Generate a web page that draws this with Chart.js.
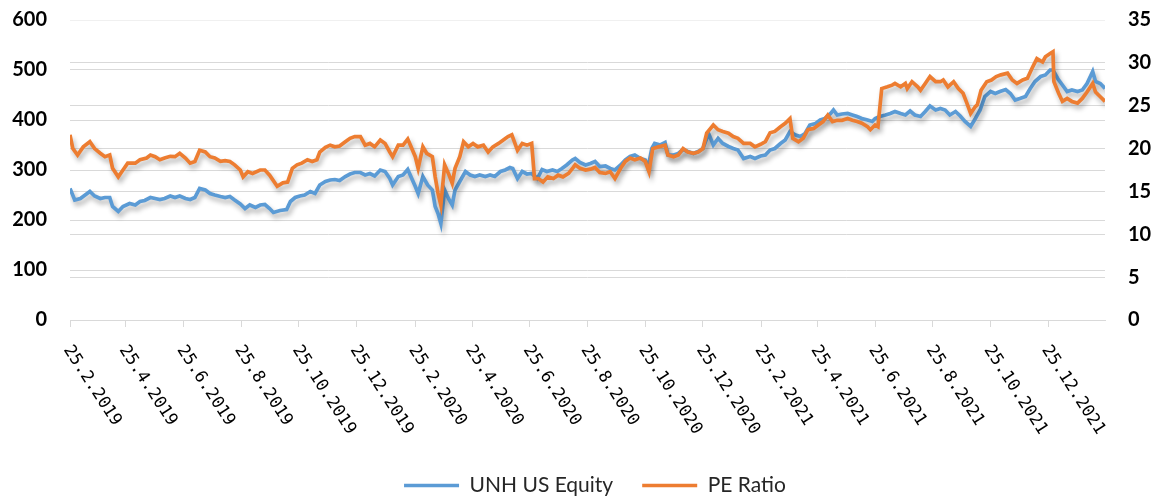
<!DOCTYPE html>
<html>
<head>
<meta charset="utf-8">
<script src="https://cdn.jsdelivr.net/npm/chart.js@4"></script>
<style>
html, body { margin: 0; padding: 0; background: #fff; }
#chart { display: block; }
</style>
</head>
<body>
<canvas id="chart" width="1170" height="499" style="width:1170px;height:499px"></canvas>
<script>
/* ---------- Data ---------- */
// x values are days since 25.2.2019
const START = Date.UTC(2019, 1, 25);

const tickLabels = ['25.2.2019', '25.4.2019', '25.6.2019', '25.8.2019', '25.10.2019', '25.12.2019',
    '25.2.2020', '25.4.2020', '25.6.2020', '25.8.2020', '25.10.2020', '25.12.2020',
    '25.2.2021', '25.4.2021', '25.6.2021', '25.8.2021', '25.10.2021', '25.12.2021'];

const uDays = [0,5,11,16,21,26,32,37,42,45, 51,56,63,69,74,79,85,90,95,100,
    106,111,116,122,127,132,137,143,148,153, 159,164,169,174,180,185,190,196,201,206,
    211,215,222,229,233,238,243,248,254,259, 264,270,275,280,285,291,296,301,307,312,
    317,322,328,333,338,341,347,352,357,365, 368,373,378,383,386,389,392,396,400,404,
    407,412,418,423,428,433,439,444,449,455, 460,465,468,473,478,483,488,494,499,504,
    510,515,520,525,531,534,539,545,550,555, 560,566,571,576,582,587,592,597,603,608,
    611,615,618,624,629,632,638,643,648,653, 659,664,669,675,680,685,690,696,701,706,
    712,719,724,730,735,740,745,751,756,761, 767,772,777,782,788,793,798,804,807,811,
    816,822,827,832,837,843,848,851,856,862, 867,872,878,883,888,893,899,904,909,915,
    920,925,930,936,941,946,952,957,962,967, 973,978,983,989,994,999,1004,1010,1015,1020,
    1026,1031,1036,1039,1044,1049,1054,1059,1065,1070, 1075,1081,1084,1089,1094];
const uVals = [263,240,243,250,257,248,243,245,245,227, 217,227,233,230,237,239,245,243,241,243,
    248,245,248,243,241,245,263,260,253,250, 247,245,247,240,232,223,230,225,230,231,
    223,215,219,221,237,245,248,250,257,253, 270,277,280,281,279,287,292,295,295,290,
    293,288,300,297,283,270,287,290,301,267, 253,287,270,260,227,213,193,260,243,230,
    260,277,297,290,287,290,287,290,287,297, 300,305,303,283,297,292,293,283,301,297,
    300,297,303,310,320,323,315,310,313,317, 307,308,303,300,310,320,327,330,323,320,
    305,343,353,350,355,330,330,333,341,337, 333,337,343,373,350,363,353,347,343,340,
    323,327,323,328,330,340,343,353,360,377, 370,367,373,390,393,400,403,413,420,410,
    412,413,410,407,403,400,397,403,407,410, 413,417,413,410,418,410,407,417,428,420,
    423,420,410,417,408,397,387,403,420,447, 457,453,457,461,453,440,443,447,463,477,
    487,490,500,500,483,470,457,460,457,460, 473,497,477,473,463];

const peDays = [0,3,8,14,21,26,32,37,42,45, 51,56,61,69,74,81,85,90,95,100,
    106,111,116,122,127,132,137,143,148,153, 159,164,169,174,180,183,188,193,201,206,
    211,219,225,230,235,240,245,251,256,261, 264,270,275,280,285,291,296,301,307,312,
    317,322,328,333,338,341,347,352,357,365, 368,373,377,383,386,389,392,396,400,404,
    407,412,416,421,426,431,437,442,447,453, 458,463,467,473,478,483,488,491,495,500,
    505,511,516,521,527,532,534,539,545,550, 555,560,566,571,576,582,587,592,597,603,
    608,612,616,622,629,632,638,643,648,653, 659,664,669,673,680,685,690,696,701,706,
    712,719,724,730,735,740,745,751,756,761, 764,770,775,780,786,791,796,801,806,811,
    816,822,827,832,837,843,846,851,854,858, 864,869,872,878,883,885,890,896,899,904,
    909,915,920,923,928,934,939,944,948,952, 957,959,963,969,974,979,984,991,996,1001,
    1007,1012,1017,1022,1028,1031,1036,1039,1040,1045, 1049,1054,1059,1065,1070,1075,1081,1084,1089,1094];
const peVals = [21.6,20.0,19.25,20.2,20.8,20.0,19.45,19.05,19.25,17.7, 16.7,17.5,18.3,18.3,18.7,18.9,19.25,19.05,18.7,18.9,
    19.1,19.05,19.45,18.9,18.3,18.5,19.8,19.6,19.05,18.9, 18.5,18.6,18.5,18.1,17.5,16.7,17.3,17.1,17.5,17.5,
    16.9,15.6,16.0,16.1,17.7,18.1,18.3,18.7,18.5,18.7, 19.6,20.15,20.4,20.2,20.3,20.8,21.2,21.4,21.4,20.4,
    20.6,20.2,21.0,20.6,19.6,19.05,20.4,20.4,21.1,19.05, 17.7,20.2,19.45,19.05,16.7,14.8,13.4,18.1,17.1,15.95,
    17.7,19.05,20.8,20.2,20.6,20.2,20.4,19.6,20.2,20.6, 21.0,21.4,21.6,19.8,20.6,20.4,20.6,16.5,16.5,16.1,
    16.7,16.5,16.9,16.7,17.1,17.8,18.1,17.7,17.5,17.6, 17.8,17.2,17.1,17.3,16.5,17.7,18.5,18.9,18.7,18.9,
    18.5,17.3,20.0,20.2,20.4,19.25,19.05,19.25,20.0,19.6, 19.45,19.6,20.0,21.8,22.75,22.2,22.0,21.8,21.4,21.2,
    20.6,20.6,20.2,20.5,20.8,21.85,22.0,22.55,22.95,23.5, 21.2,20.8,21.2,22.2,22.35,22.75,23.15,23.9,23.15,23.3,
    23.3,23.5,23.3,23.15,22.95,22.55,22.2,22.75,22.55,27.0, 27.2,27.4,27.6,27.2,27.6,27.0,27.8,27.2,26.8,27.6,
    28.4,27.8,27.8,28.0,27.2,27.8,27.0,26.45,25.3,24.1, 24.9,25.1,26.8,27.8,28.0,28.4,28.6,28.8,28.0,27.6,
    28.0,28.2,29.4,30.5,30.1,30.7,31.1,31.3,27.8,26.45, 25.5,25.85,25.5,25.3,25.85,26.6,27.6,26.6,26.05,25.5];

/* ---------- Helpers ---------- */
function dayOf(label) {
    const [d, m, y] = label.split('.').map(Number);
    return Math.round((Date.UTC(y, m - 1, d) - START) / 86400000);
}
const tickDays = tickLabels.map(dayOf);
const toPoints = (xs, ys) => xs.map((x, i) => ({ x: x, y: ys[i] }));

/* ---------- Plugins ---------- */
const lineShadow = {
    id: 'lineShadow',
    beforeDatasetsDraw(chart) {
        const ctx = chart.ctx;
        ctx.save();
        ctx.shadowColor = 'rgba(0,0,0,0.3)';
        ctx.shadowBlur = 5;
        ctx.shadowOffsetX = 2;
        ctx.shadowOffsetY = 4;
    },
    afterDatasetsDraw(chart) {
        chart.ctx.restore();
    }
};

// rotated date labels (text runs down to the right from each tick)
const dateLabels = {
    id: 'dateLabels',
    afterDraw(chart) {
        const ctx = chart.ctx;
        const xs = chart.scales.x;
        ctx.save();
        ctx.font = '17px "DejaVu Sans Mono", "Liberation Mono", monospace';
        ctx.fillStyle = '#000';
        ctx.textAlign = 'left';
        ctx.textBaseline = 'middle';
        tickLabels.forEach((lbl, i) => {
            const px = xs.getPixelForValue(tickDays[i]);
            ctx.save();
            ctx.translate(px - 3, xs.top + 27);
            ctx.rotate(57 * Math.PI / 180);
            ctx.fillText(lbl, 0, 0);
            ctx.restore();
        });
        ctx.restore();
    }
};

// nudge the legend a little right and down
const legendNudge = {
    id: 'legendNudge',
    afterLayout(chart) {
        const lg = chart.legend;
        lg.left += 10; lg.right += 10;
        lg.top += 7; lg.bottom += 7;
    }
};

/* ---------- Chart ---------- */
const gridColor = '#d9d9d9';
const axisFont = { family: 'Lato', weight: 'bold', size: 20 };
const gridFor = top => ({
    color: c => (c.tick && c.tick.value === top) ? '#f0f0f0' : gridColor,
    drawTicks: false
});
// fixed axis widths, and keep the tick padding from pushing the plot down
const fitY = w => s => { s.width = w; s.paddingTop = 20; s.paddingBottom = 0; };

new Chart(document.getElementById('chart').getContext('2d'), {
    type: 'line',
    data: {
        datasets: [
            { label: 'UNH US Equity', data: toPoints(uDays, uVals), borderColor: '#5B9BD5', backgroundColor: '#5B9BD5',
              borderWidth: 3.7, pointRadius: 0, yAxisID: 'y', order: 1 },
            { label: 'PE Ratio', data: toPoints(peDays, peVals), borderColor: '#ED7D31', backgroundColor: '#ED7D31',
              borderWidth: 3.7, pointRadius: 0, yAxisID: 'y1', order: 0 }
        ]
    },
    options: {
        responsive: false,
        animation: false,
        devicePixelRatio: 1,
        layout: { padding: { top: 0, bottom: 0, left: 0, right: 0 } },
        plugins: {
            legend: {
                position: 'bottom',
                labels: {
                    usePointStyle: true,
                    pointStyle: 'line',
                    pointStyleWidth: 55,
                    padding: 29,
                    color: '#262626',
                    font: { family: 'Lato', size: 21 },
                    sort: (a, b) => a.datasetIndex - b.datasetIndex
                }
            },
            tooltip: { enabled: false }
        },
        scales: {
            x: {
                type: 'linear',
                min: 0,
                max: uDays[uDays.length - 1],
                afterBuildTicks: s => { s.ticks = tickDays.map(v => ({ value: v })); },
                afterFit: s => { s.height = 119; },
                ticks: { display: false },
                grid: { drawOnChartArea: false, drawTicks: true, tickLength: 7, color: gridColor },
                border: { color: gridColor }
            },
            y: {
                position: 'left',
                min: 0,
                max: 600,
                afterFit: fitY(70),
                ticks: { stepSize: 100, padding: 23, color: '#000', font: axisFont },
                grid: gridFor(600),
                border: { display: false }
            },
            y1: {
                position: 'right',
                min: 0,
                max: 35,
                afterFit: fitY(65),
                ticks: { stepSize: 5, padding: 23, color: '#000', font: axisFont },
                grid: gridFor(35),
                border: { display: false }
            }
        }
    },
    plugins: [lineShadow, dateLabels, legendNudge]
});
</script>
</body>
</html>
